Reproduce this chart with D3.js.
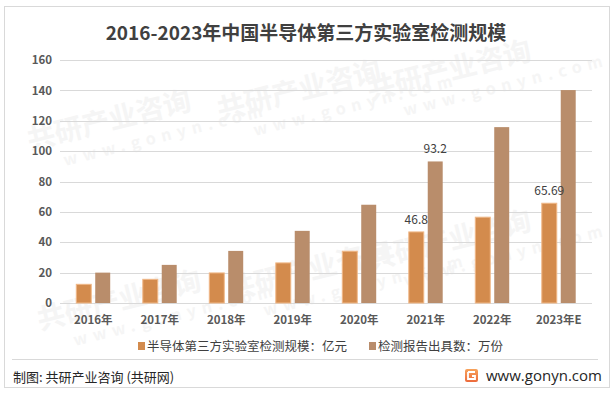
<!DOCTYPE html>
<html>
<head>
<meta charset="utf-8">
<script src="https://cdn.jsdelivr.net/npm/d3@7"></script>
<style>
  body { margin: 0; background: #fff; }
  text { font-family: "Noto Sans CJK SC", "Noto Sans", sans-serif; }
</style>
</head>
<body>
<div id="chart"></div>
<script>
const years = ['2016年', '2017年', '2018年', '2019年', '2020年', '2021年', '2022年', '2023年E'];
const seriesNames = ['半导体第三方实验室检测规模：亿元', '检测报告出具数：万份'];
const scaleValues = [12.3, 15.6, 19.8, 26.4, 34.1, 46.8, 56.5, 65.69];
const reportValues = [20, 25.1, 34.3, 47.5, 64.7, 93.2, 115.8, 140.2];
const yTicks = [0, 20, 40, 60, 80, 100, 120, 140, 160];
// only these get a number on top
const labelled = [[5, 0, '46.8'], [5, 1, '93.2'], [7, 0, '65.69']];

const colors = ['#d38b4d', '#b98d6b'];
const W = 615, H = 393;

const svg = d3.select('#chart').append('svg')
  .attr('width', W).attr('height', H);

// outer frame
svg.append('rect')
  .attr('x', 4.5).attr('y', 6.5).attr('width', 605).attr('height', 381)
  .attr('fill', '#fff').attr('stroke', '#d9d9d9');

// faint watermark, kept inside the frame
const wm = svg.append('g').attr('fill', '#f5f5f5').attr('font-weight', 'bold');
[[30, 150], [220, 120], [370, 100], [40, 330], [230, 300], [370, 270]].forEach(([x, y]) => {
  const g = wm.append('g').attr('transform', `translate(${x},${y}) rotate(-14)`);
  g.append('text').attr('font-size', 28).text('共研产业咨询');
  g.append('text').attr('y', 24).attr('x', 30).attr('font-size', 16)
    .attr('letter-spacing', 6).text('www.gonyn.com');
});

svg.append('text')
  .attr('x', 306).attr('y', 40)
  .attr('text-anchor', 'middle')
  .attr('font-size', 19).attr('font-weight', 'bold').attr('fill', '#404040')
  .text('2016-2023年中国半导体第三方实验室检测规模');

const x = d3.scaleBand().domain(years).range([60, 592]).padding(0);
const xs = d3.scaleBand().domain([0, 1]).range([0, x.bandwidth()])
  .paddingInner(0.21).paddingOuter(0.86);
const y = d3.scaleLinear().domain([0, 160]).range([303, 60]);

// gridlines
svg.append('g').selectAll('line').data(yTicks).join('line')
  .attr('x1', 60).attr('x2', 592)
  .attr('y1', d => Math.round(y(d)) + 0.5).attr('y2', d => Math.round(y(d)) + 0.5)
  .attr('stroke', '#d9d9d9');

const yAxis = svg.append('g')
  .attr('transform', 'translate(52,0)')
  .call(d3.axisLeft(y).tickValues(yTicks).tickSize(0).tickPadding(0));
yAxis.select('.domain').remove();
yAxis.selectAll('text')
  .attr('font-size', 11.5).attr('font-weight', 'bold').attr('fill', '#595959')
  .style('font-family', '"Noto Sans CJK SC", sans-serif');

const xAxis = svg.append('g')
  .attr('transform', 'translate(0,303)')
  .call(d3.axisBottom(x).tickSize(0).tickPadding(13));
xAxis.select('.domain').remove();
xAxis.selectAll('text')
  .attr('font-size', 11.5).attr('font-weight', 'bold').attr('fill', '#595959')
  .style('font-family', '"Noto Sans CJK SC", sans-serif');

const data = [scaleValues, reportValues];
data.forEach((vals, s) => {
  svg.append('g').selectAll('rect').data(vals).join('rect')
    .attr('x', (d, i) => x(years[i]) + xs(s))
    .attr('y', d => y(d))
    .attr('width', xs.bandwidth())
    .attr('height', d => y(0) - y(d))
    .attr('fill', colors[s])
    .attr('stroke', s === 0 ? '#f0b888' : 'none')
    .attr('stroke-width', 1);
});

svg.append('g').selectAll('text').data(labelled).join('text')
  .attr('x', d => x(years[d[0]]) + xs(d[1]) + xs.bandwidth() / 2)
  .attr('y', d => y(data[d[1]][d[0]]) - 8)
  .attr('text-anchor', 'middle')
  .attr('font-size', 12).attr('fill', '#404040')
  .text(d => d[2]);

// legend
const legend = svg.append('g').attr('transform', 'translate(0,347)');
const legX = [138, 369];
seriesNames.forEach((name, s) => {
  legend.append('rect')
    .attr('x', legX[s]).attr('y', -5).attr('width', 7).attr('height', 8)
    .attr('fill', colors[s]);
  legend.append('text')
    .attr('x', legX[s] + 9).attr('y', 0).attr('dy', '0.35em')
    .attr('font-size', 12.5).attr('fill', '#404040')
    .text(name);
});

// footer
svg.append('line')
  .attr('x1', 12).attr('x2', 598).attr('y1', 359.5).attr('y2', 359.5)
  .attr('stroke', '#d9d9d9');
svg.append('text')
  .attr('x', 13).attr('y', 377).attr('dy', '0.35em')
  .attr('font-size', 13).attr('fill', '#262626')
  .text('制图: 共研产业咨询 (共研网)');

const logo = svg.append('g').attr('transform', 'translate(465,369)');
const lg = svg.append('defs').append('linearGradient')
  .attr('id', 'lg').attr('x1', 0).attr('y1', 0).attr('x2', 0).attr('y2', 1);
lg.append('stop').attr('offset', 0).attr('stop-color', '#f7a35c');
lg.append('stop').attr('offset', 1).attr('stop-color', '#ec6a3c');
logo.append('rect').attr('width', 13).attr('height', 13).attr('rx', 2).attr('fill', 'url(#lg)');
logo.append('path')
  .attr('d', 'M3,3 H10 M3,3 V10 H10 V7 H7')
  .attr('stroke', '#fff').attr('stroke-width', 1.8).attr('fill', 'none');
svg.append('text')
  .attr('x', 486).attr('y', 376).attr('dy', '0.35em')
  .attr('font-size', 15).attr('fill', '#262626')
  .style('font-family', '"Open Sans", "Noto Sans", sans-serif')
  .text('www.gonyn.com');
</script>
</body>
</html>
